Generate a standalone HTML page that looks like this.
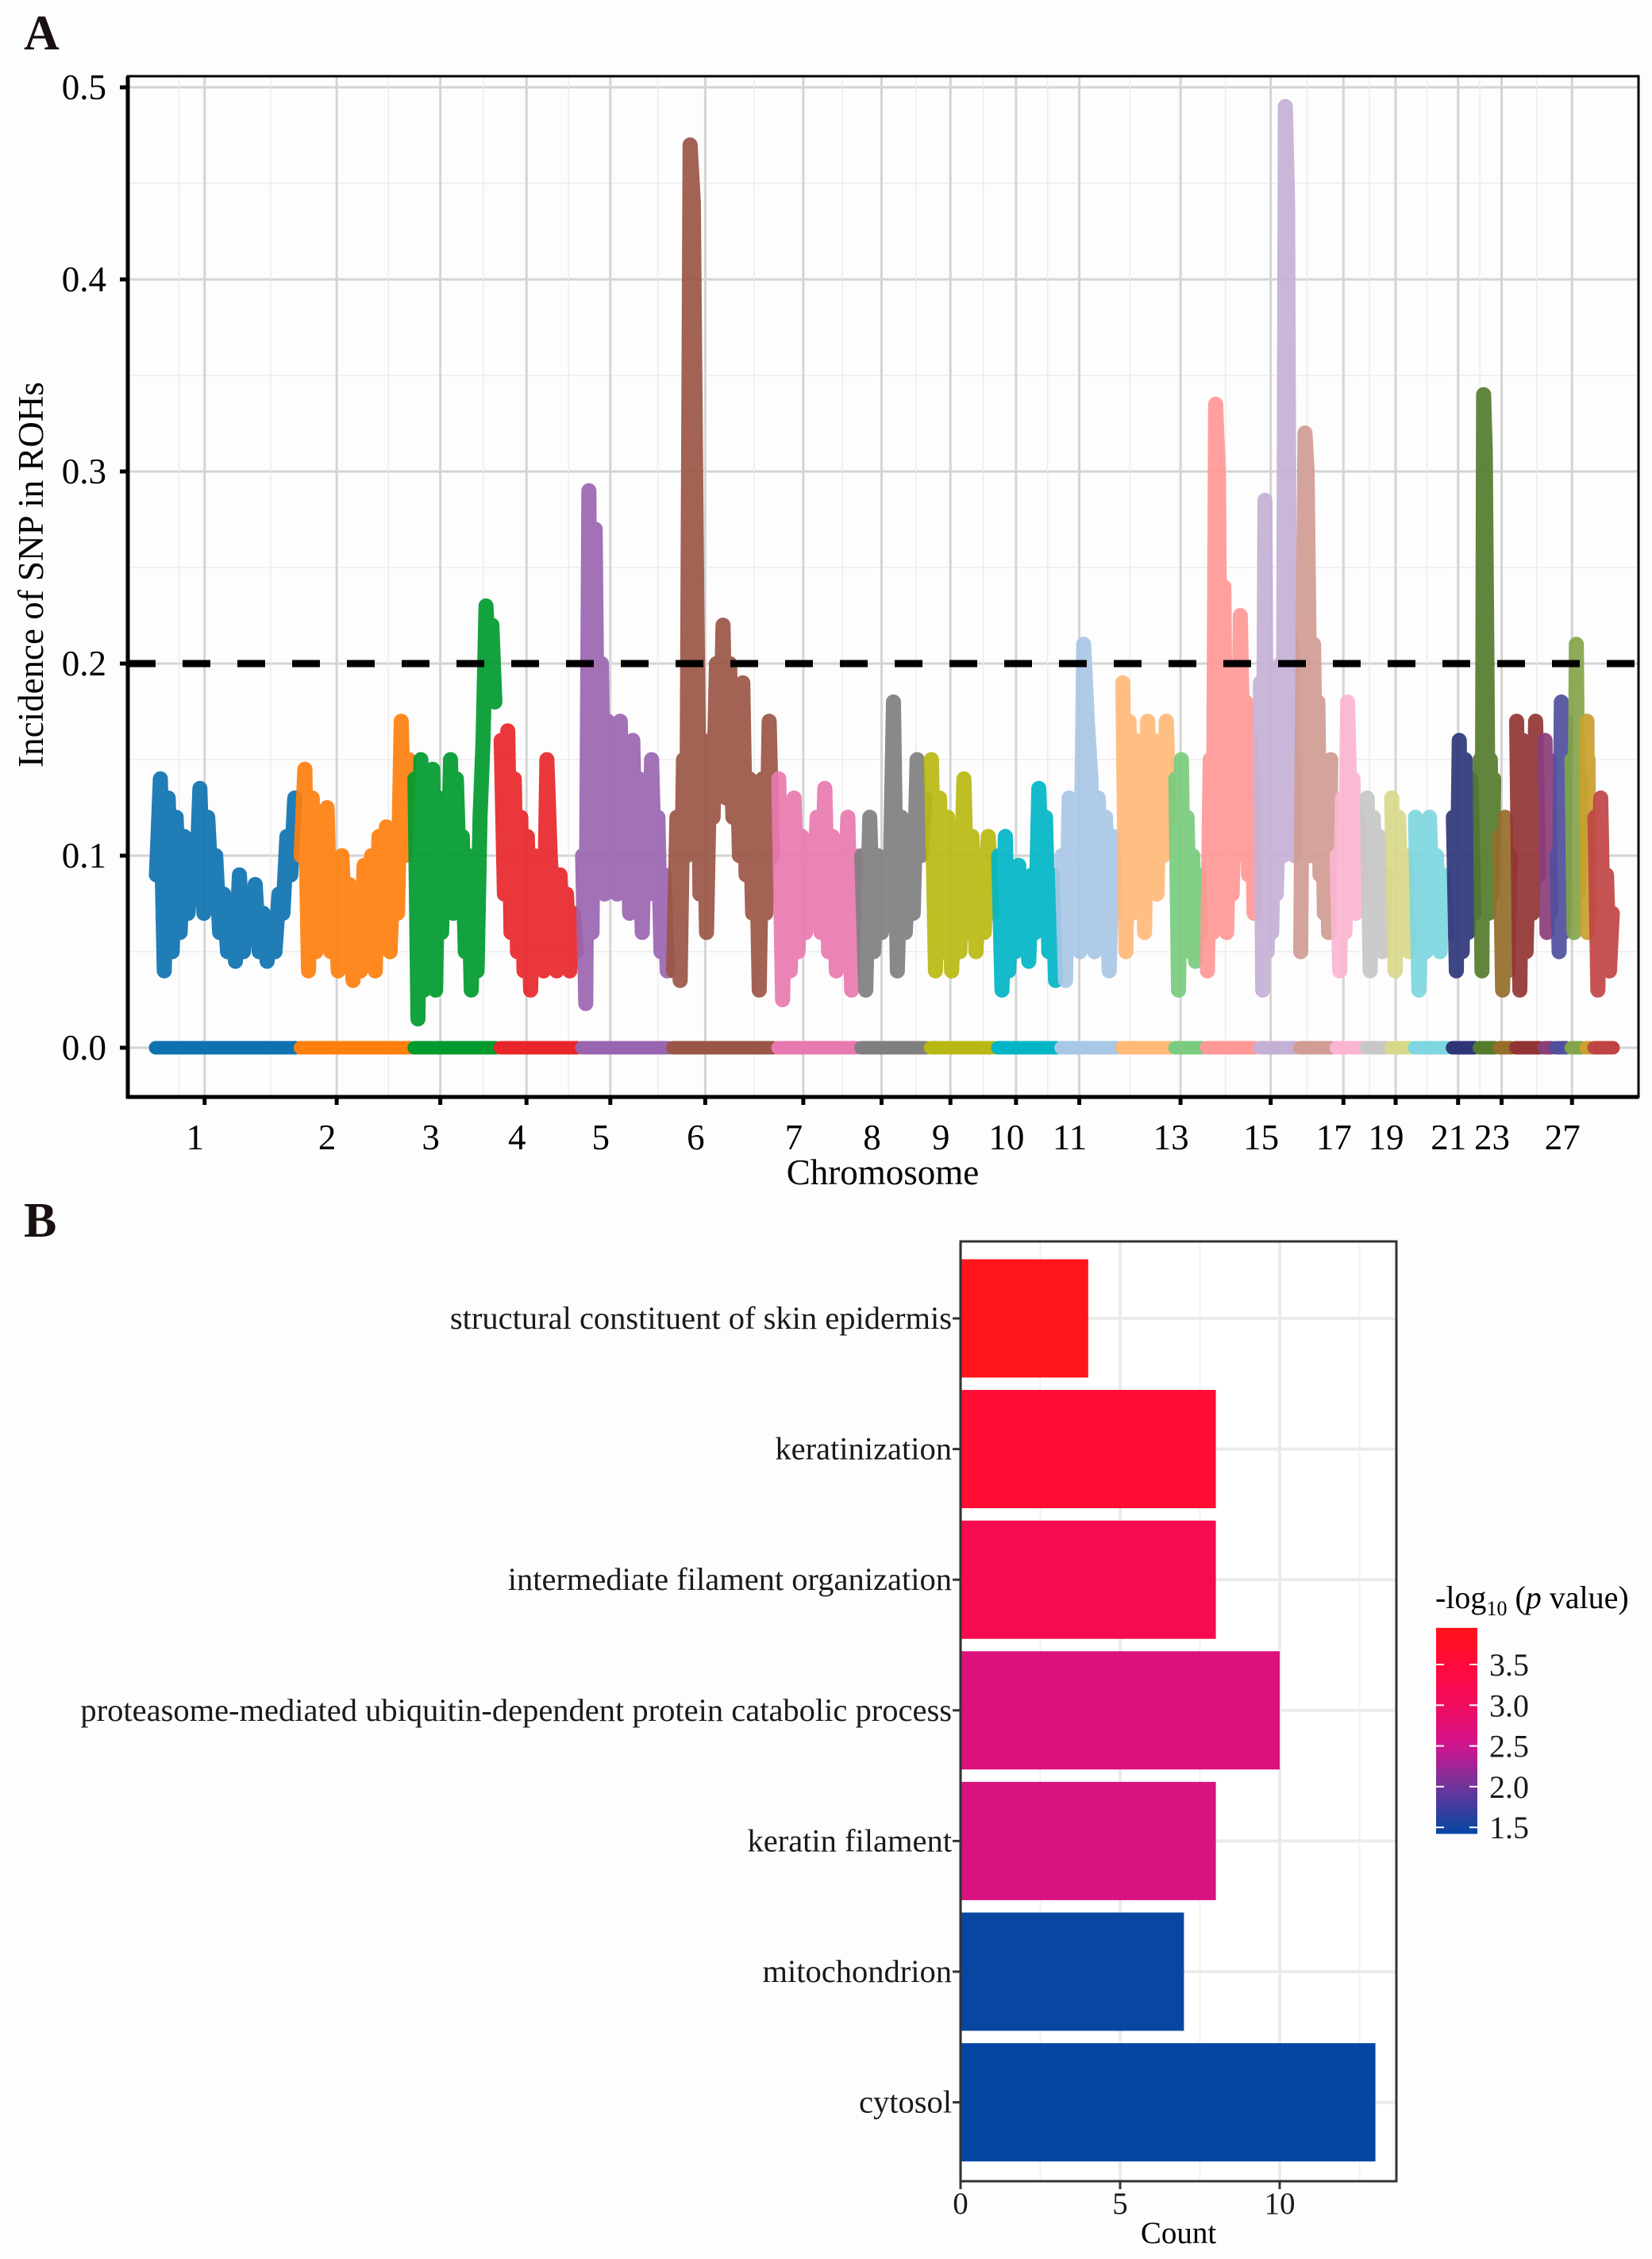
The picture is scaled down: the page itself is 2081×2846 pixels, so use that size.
<!DOCTYPE html>
<html><head><meta charset="utf-8"><style>
html,body{margin:0;padding:0;background:#fdfdfd;}
svg{display:block;font-family:"Liberation Serif",serif;}
</style></head><body>
<svg id="fig" xmlns="http://www.w3.org/2000/svg" width="2081" height="2846" viewBox="0 0 2081 2846">
<rect x="0" y="0" width="2081" height="2846" fill="#fdfdfd"/>
<text x="30" y="62" font-size="62" font-weight="bold" fill="#1a1010">A</text>
<text x="30" y="1558" font-size="62" font-weight="bold" fill="#1a1010">B</text>
<g id="pa"></g>
<g id="pb"></g>
</svg>
<script>
// ---------- Panel A data ----------
const chrNames = ["1","2","3","4","5","6","7","8","9","10","11","12","13","14","15","16","17","18","19","20","21","22","23","24","25","26","27","28","29"];
const chrLengths = [183,144,109,103,115,133,105,88,85,80,77,67,40,67,51,46,38,31,30,48,34,25,21,36,15,19,19,10,30];
const chrColors = ["#0E72B0","#FF7F0E","#009A2E","#E8262A","#9A65B0","#9A5545","#E878B0","#7F7F7F","#B8B812","#00B5C5","#A9C7E6","#FFBA78","#7ACB7D","#FF9896","#C5B0D5","#D09C94","#FBB5D0","#C7C7C7","#D8D88A","#7DD6E0","#2E3678","#557B2E","#956C2A","#923434","#8A3E7A","#4F4F9E","#84A449","#C9A02E","#C04444"];
const chrValues = [
[0.09,0.14,0.04,0.13,0.05,0.12,0.06,0.11,0.07,0.10,0.08,0.135,0.07,0.12,0.08,0.10,0.06,0.08,0.05,0.07,0.045,0.09,0.05,0.08,0.06,0.085,0.05,0.07,0.045,0.065,0.05,0.08,0.07,0.11,0.09,0.13],
[0.10,0.145,0.04,0.13,0.05,0.11,0.06,0.125,0.05,0.09,0.04,0.10,0.05,0.085,0.035,0.08,0.04,0.095,0.05,0.10,0.04,0.11,0.06,0.115,0.05,0.10,0.07,0.17,0.10,0.15],
[0.14,0.015,0.15,0.03,0.12,0.05,0.145,0.03,0.13,0.06,0.12,0.08,0.15,0.07,0.14,0.09,0.11,0.05,0.10,0.03,0.08,0.04,0.12,0.16,0.23,0.20,0.22,0.18],
[0.16,0.08,0.165,0.06,0.14,0.05,0.12,0.04,0.11,0.03,0.10,0.05,0.09,0.04,0.15,0.10,0.07,0.04,0.09,0.05,0.08,0.04,0.07,0.05],
[0.10,0.023,0.29,0.06,0.27,0.10,0.20,0.08,0.17,0.09,0.16,0.08,0.17,0.10,0.15,0.07,0.16,0.09,0.14,0.06,0.13,0.08,0.15,0.09,0.12,0.05,0.09,0.04],
[0.04,0.12,0.035,0.15,0.10,0.47,0.44,0.24,0.08,0.16,0.06,0.15,0.12,0.20,0.14,0.22,0.13,0.20,0.12,0.17,0.10,0.19,0.09,0.14,0.07,0.12,0.03,0.14,0.07,0.17,0.10],
[0.14,0.025,0.12,0.04,0.13,0.05,0.11,0.06,0.10,0.07,0.12,0.06,0.135,0.05,0.11,0.04,0.09,0.05,0.12,0.03,0.10],
[0.10,0.03,0.12,0.05,0.10,0.06,0.09,0.07,0.18,0.04,0.12,0.06,0.10,0.07,0.15,0.10,0.13],
[0.15,0.04,0.13,0.05,0.12,0.04,0.10,0.05,0.14,0.06,0.11,0.05,0.10,0.06,0.11,0.07],
[0.10,0.03,0.11,0.04,0.08,0.05,0.095,0.06,0.07,0.045,0.09,0.06,0.135,0.08,0.12,0.05,0.09,0.035],
[0.10,0.035,0.13,0.06,0.12,0.05,0.21,0.17,0.14,0.05,0.13,0.06,0.12,0.04,0.11,0.07],
[0.19,0.05,0.17,0.07,0.16,0.08,0.15,0.06,0.17,0.10,0.16,0.08,0.15,0.10,0.17,0.12],
[0.14,0.03,0.15,0.05,0.12,0.06,0.10,0.045,0.09,0.06],
[0.04,0.15,0.06,0.335,0.30,0.10,0.24,0.06,0.12,0.08,0.14,0.10,0.225,0.15,0.18,0.09,0.16,0.07],
[0.19,0.03,0.285,0.05,0.17,0.06,0.13,0.08,0.12,0.20,0.10,0.49,0.44,0.14,0.21,0.10],
[0.05,0.20,0.32,0.30,0.20,0.10,0.21,0.13,0.18,0.09,0.14,0.07,0.12,0.06,0.15],
[0.10,0.04,0.13,0.06,0.18,0.12,0.14,0.07,0.12,0.08],
[0.13,0.04,0.12,0.06,0.11,0.05,0.09],
[0.13,0.04,0.12,0.06,0.10,0.05],
[0.12,0.03,0.10,0.05,0.12,0.06,0.10,0.05,0.09,0.06],
[0.12,0.04,0.16,0.05,0.15,0.06,0.14,0.07],
[0.15,0.04,0.34,0.31,0.20,0.07,0.15,0.08,0.14],
[0.11,0.03,0.12,0.04,0.10],
[0.17,0.03,0.16,0.05,0.12,0.07,0.17,0.09],
[0.16,0.06,0.15,0.07],
[0.10,0.05,0.18,0.06,0.17],
[0.15,0.06,0.21,0.08,0.14],
[0.17,0.06,0.15,0.07],
[0.12,0.03,0.13,0.05,0.09,0.04,0.07]
];
const xTickLabels = ["1","2","3","4","5","6","7","8","9","10","11","13","15","17","19","21","23","27"];
const xTickPos = [65,232,363,472,578,698,822,921,1008,1091,1171,1299,1413,1505,1571,1650,1705,1794];
const yTicksA = [0,0.1,0.2,0.3,0.4,0.5];
const yTickLabelsA = ["0.0","0.1","0.2","0.3","0.4","0.5"];
const threshold = 0.2;

// ---------- Panel B data ----------
const terms = ["structural constituent of skin epidermis","keratinization","intermediate filament organization","proteasome-mediated ubiquitin-dependent protein catabolic process","keratin filament","mitochondrion","cytosol"];
const counts = [4,8,8,10,8,7,13];
const logP = [3.9,3.6,3.2,2.7,2.65,1.45,1.42];
const countTicks = [0,5,10];
const legendTicks = [1.5,2.0,2.5,3.0,3.5];

const NS="http://www.w3.org/2000/svg";
function mk(tag, attrs, parent){const e=document.createElementNS(NS,tag);for(const k in attrs)e.setAttribute(k,attrs[k]);parent.appendChild(e);return e;}

// ===== Panel A =====
(function(){
const g=document.getElementById('pa');
const L=161,R=2064,T=96,B=1382, X0=193, X1=2035;
const total=chrLengths.reduce((a,b)=>a+b,0);
const xA=u=>X0+u*(X1-X0)/total;
const yA=v=>1320-v*2420;
for(let v=0.05;v<0.55;v+=0.1){const l=mk('line',{x1:L,x2:R,y1:yA(v),y2:yA(v),stroke:'#ececec','stroke-width':1.5},g);

}
yTicksA.forEach(v=>{const l=mk('line',{x1:L,x2:R,y1:yA(v),y2:yA(v),stroke:'#d4d4d4','stroke-width':3},g);

});
const gx=[0].concat(xTickPos);
for(let i=1;i<gx.length;i++){const m=(gx[i-1]+gx[i])/2;const l=mk('line',{x1:xA(m),x2:xA(m),y1:T,y2:B,stroke:'#ececec','stroke-width':1.5},g);

}
xTickPos.forEach(p=>{const l=mk('line',{x1:xA(p),x2:xA(p),y1:T,y2:B,stroke:'#d4d4d4','stroke-width':3},g);

});
let cum=0;
chrValues.forEach((vals,i)=>{
  const s=cum, len=chrLengths[i]; cum+=len;
  const sg=mk('g',{},g);
  
  
  const z=mk('line',{x1:xA(s+3),x2:xA(s+len-3),y1:yA(0),y2:yA(0),stroke:chrColors[i],'stroke-width':17,'stroke-linecap':'round'},sg);
  
  
  const n=vals.length;
  const pts=vals.map((v,k)=>[xA(s+4+(len-8)*k/(n-1)),yA(v)]);
  const pl=mk('polyline',{points:pts.map(p=>p[0].toFixed(1)+','+p[1].toFixed(1)).join(' '),fill:'none',stroke:chrColors[i],'stroke-width':19,'stroke-linejoin':'round','stroke-linecap':'round','stroke-opacity':0.92},sg);
  
  
});
const th=mk('line',{x1:L,x2:R,y1:yA(threshold),y2:yA(threshold),stroke:'#000','stroke-width':9,'stroke-dasharray':'35 34'},g);


const fr=mk('rect',{x:L,y:T,width:R-L,height:B-T,fill:'none',stroke:'#000','stroke-width':3},g);


const ax=mk('line',{x1:L-2,x2:R,y1:B,y2:B,stroke:'#000','stroke-width':5},g);


const ay=mk('line',{x1:L,x2:L,y1:T,y2:B+2,stroke:'#000','stroke-width':5},g);


yTicksA.forEach((v,i)=>{
  const t=mk('line',{x1:L-10,x2:L,y1:yA(v),y2:yA(v),stroke:'#000','stroke-width':5},g);
  
  
  const tx=mk('text',{x:134,y:yA(v)+15,'text-anchor':'end','font-size':45,fill:'#000'},g);
  tx.textContent=yTickLabelsA[i];
  
  
});
xTickPos.forEach((p,i)=>{
  const t=mk('line',{x1:xA(p),x2:xA(p),y1:B,y2:B+10,stroke:'#000','stroke-width':5},g);
  
  
  const tx=mk('text',{x:xA(p)-12,y:1448,'text-anchor':'middle','font-size':45,fill:'#000'},g);
  tx.textContent=xTickLabels[i];
  
  
});
const xt=mk('text',{x:1112,y:1492,'text-anchor':'middle','font-size':45,fill:'#000'},g);
xt.textContent='Chromosome';


const yt=mk('text',{x:0,y:0,'text-anchor':'middle','font-size':45,fill:'#000',transform:'translate(54,724) rotate(-90)'},g);
yt.textContent='Incidence of SNP in ROHs';


})();

// ===== Panel B =====
(function(){
const g=document.getElementById('pb');
const L=1210,R=1759,T=1564,B=2748;
const xB=c=>L+c*40.2;
const step=164.6, c0=1661;
const yB=i=>c0+i*step;
const stops=[[1.4,[0,71,163]],[2.0,[112,53,154]],[2.5,[208,21,142]],[3.0,[240,12,96]],[3.5,[255,10,58]],[3.95,[255,20,24]]];
function col(v){
  if(v<=stops[0][0])return 'rgb('+stops[0][1].join(',')+')';
  for(let i=1;i<stops.length;i++){if(v<=stops[i][0]){const a=stops[i-1],b=stops[i];const t=(v-a[0])/(b[0]-a[0]);return 'rgb('+a[1].map((c,k)=>Math.round(c+(b[1][k]-c)*t)).join(',')+')';}}
  return 'rgb('+stops[stops.length-1][1].join(',')+')';
}
mk('rect',{x:L,y:T,width:R-L,height:B-T,fill:'#fff'},g);
[2.5,7.5,12.5].forEach(c=>{const l=mk('line',{x1:xB(c),x2:xB(c),y1:T,y2:B,stroke:'#f2f2f2','stroke-width':2},g);

});
countTicks.forEach(c=>{const l=mk('line',{x1:xB(c),x2:xB(c),y1:T,y2:B,stroke:'#ebebeb','stroke-width':4},g);

});
terms.forEach((t,i)=>{const l=mk('line',{x1:L,x2:R,y1:yB(i),y2:yB(i),stroke:'#ebebeb','stroke-width':4},g);

});
terms.forEach((t,i)=>{
  const r=mk('rect',{x:L,y:yB(i)-74.5,width:xB(counts[i])-L,height:149,fill:col(logP[i])},g);
  
  
  const tk=mk('line',{x1:L-10,x2:L,y1:yB(i),y2:yB(i),stroke:'#333','stroke-width':3},g);
  
  
  const tx=mk('text',{x:L-11,y:yB(i)+13,'text-anchor':'end','font-size':40.5,fill:'#1a1a1a'},g);
  tx.textContent=t;
  
  
});
const fr=mk('rect',{x:L,y:T,width:R-L,height:B-T,fill:'none',stroke:'#333','stroke-width':3},g);


countTicks.forEach(c=>{
  const tk=mk('line',{x1:xB(c),x2:xB(c),y1:B,y2:B+10,stroke:'#333','stroke-width':3},g);
  
  
  const tx=mk('text',{x:xB(c),y:2789,'text-anchor':'middle','font-size':39,fill:'#1a1a1a'},g);
  tx.textContent=String(c);
  
  
});
const xt=mk('text',{x:(L+R)/2,y:2826,'text-anchor':'middle','font-size':39,fill:'#000'},g);
xt.textContent='Count';


const lg=mk('g',{},g);


const title=mk('text',{x:1808,y:2026,'font-size':40,fill:'#000'},lg);
title.innerHTML='-log<tspan font-size="26" dy="9">10</tspan><tspan dy="-9"> (</tspan><tspan font-style="italic">p</tspan> value)';


const ly=v=>2097+(3.5-v)*102.6;
const vmax=3.95, vmin=1.42;
const defs=mk('defs',{},lg);
const grad=mk('linearGradient',{id:'cbar',x1:0,y1:0,x2:0,y2:1},defs);
for(let k=0;k<=20;k++){const v=vmax-(vmax-vmin)*k/20;mk('stop',{offset:(k/20),'stop-color':col(v)},grad);}
const cb=mk('rect',{x:1809,y:ly(vmax),width:52,height:ly(vmin)-ly(vmax),fill:'url(#cbar)'},lg);


legendTicks.forEach(v=>{
  mk('line',{x1:1809,x2:1819,y1:ly(v),y2:ly(v),stroke:'#fff','stroke-width':2},lg);
  mk('line',{x1:1851,x2:1861,y1:ly(v),y2:ly(v),stroke:'#fff','stroke-width':2},lg);
  const tx=mk('text',{x:1876,y:ly(v)+14,'font-size':40,fill:'#1a1a1a'},lg);
  tx.textContent=v.toFixed(1);
  
  
});
})();
</script>
</body></html>
